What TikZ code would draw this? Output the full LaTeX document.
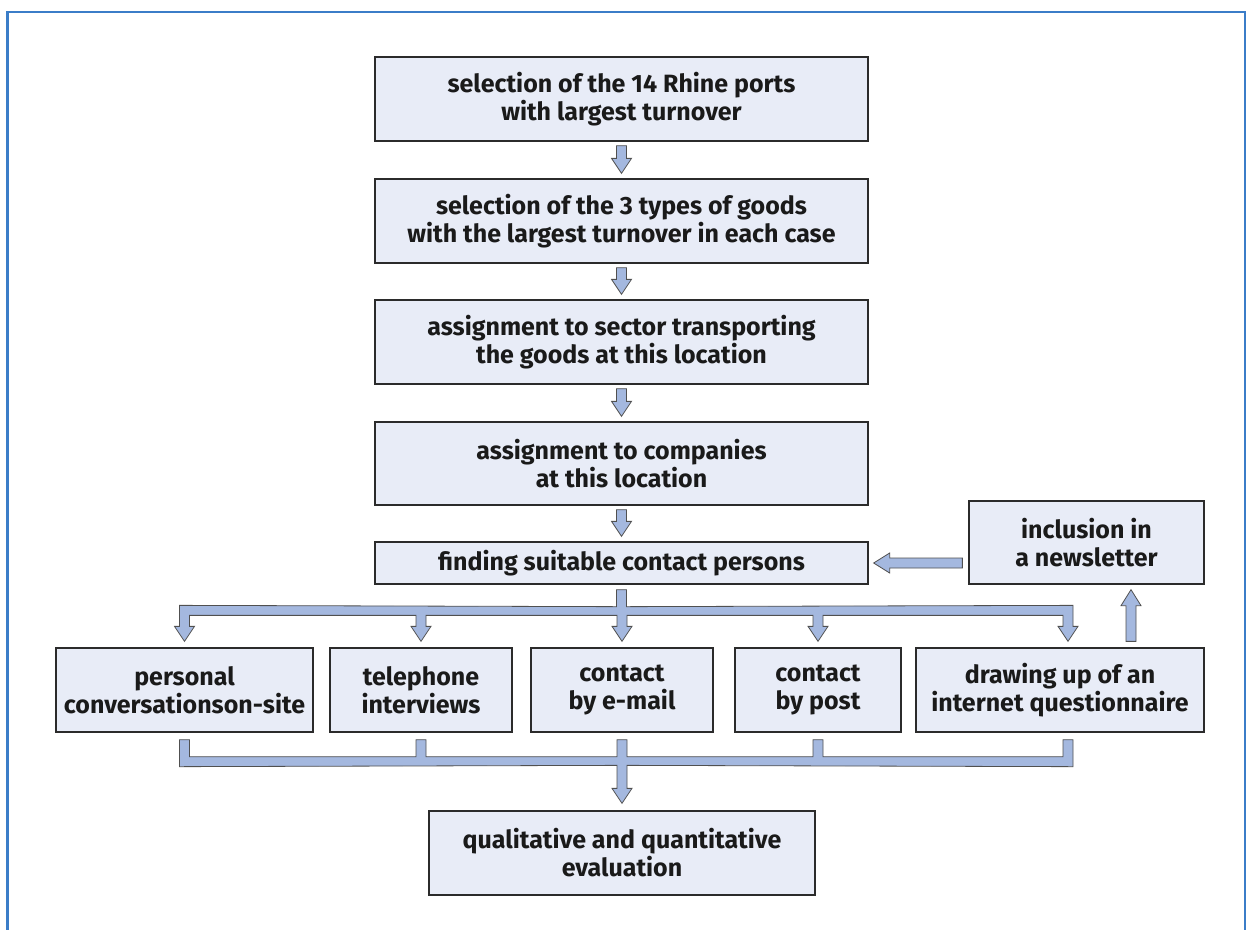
\documentclass[tikz,border=0pt]{standalone}
\usepackage{fontspec}
\setmainfont{Fira Sans}
\usetikzlibrary{calc}
\definecolor{framec}{HTML}{3B7DC8}
\definecolor{boxfill}{HTML}{E8ECF7}
\definecolor{boxline}{HTML}{2B2B2B}
\definecolor{arrfill}{HTML}{A4B8DF}
\definecolor{arrline}{HTML}{505050}
\definecolor{txt}{HTML}{1A1A1A}
\tikzset{
  box/.style={draw=boxline, line width=1.3pt, fill=boxfill, align=center, text=txt,
    font=\fontsize{25}{28}\selectfont\bfseries, inner sep=0pt, minimum height=84pt},
  barrow/.style={draw=arrline, line width=0.8pt, fill=arrfill, line join=miter},
  framestyle/.style={draw=framec, line width=2.5pt}
}
\newcommand\vdarrow[2]{%
  \draw[barrow] ($(#1.south)+(-5,4)$) -- ($(#1.south)+(5,4)$) -- ($(#2.north)+(5,-20)$)
    -- ($(#2.north)+(10,-20)$) -- ($(#2.north)+(0,-5)$) -- ($(#2.north)+(-10,-20)$)
    -- ($(#2.north)+(-5,-20)$) -- cycle;}
\begin{document}
\begin{tikzpicture}[x=1pt,y=-1pt]
\useasboundingbox (0,0) rectangle (1246,929);
\draw[framestyle] (7.7,935) -- (7.7,12) -- (1245,12) -- (1245,935);

\node[box, minimum width=493pt] (b1) at (621.5,99) {selection of the 14 Rhine ports\\with largest turnover};
\node[box, minimum width=493pt] (b2) at (621.5,221) {selection of the 3 types of goods\\with the largest turnover in each case};
\node[box, minimum width=493pt] (b3) at (621.5,342) {assignment to sector transporting\\the goods at this location};
\node[box, minimum width=493pt, minimum height=83pt] (b4) at (621.5,463.5) {assignment to companies\\at this location};
\node[box, minimum width=493pt, minimum height=42pt] (b5) at (621.5,563) {finding suitable contact persons};
\node[box, minimum width=235pt, minimum height=83pt] (inc) at (1086.5,542.5) {inclusion in\\a newsletter};

\node[box, minimum width=257pt] (p1) at (184.5,690) {personal\\conversationson-site};
\node[box, minimum width=182pt] (p2) at (421,690) {telephone\\interviews};
\node[box, minimum width=182pt] (p3) at (622,690) {contact\\by e-mail};
\node[box, minimum width=166pt] (p4) at (818,690) {contact\\by post};
\node[box, minimum width=288pt] (p5) at (1060,690) {drawing up of an\\internet questionnaire};

\node[box, minimum width=386pt] (q) at (622,853) {qualitative and quantitative\\evaluation};

\vdarrow{b1}{b2}
\vdarrow{b2}{b3}
\vdarrow{b3}{b4}
\vdarrow{b4}{b5}

% branching from b5 to the row
\draw[barrow] ($(b5.south)+(-5,5)$) -- ($(b5.south)+(5,5)$) -- ($(b5.south)+(5,22)$)
  -- ($(p5.north)+(13,-42)$) -- ($(p5.north)+(13,-21)$) -- ($(p5.north)+(18,-21)$)
  -- ($(p5.north)+(8,-6)$) -- ($(p5.north)+(-2,-21)$) -- ($(p5.north)+(3,-21)$) -- ($(p5.north)+(3,-32)$)
  \foreach \n in {p4,p3,p2} {
    -- ($(\n.north)+(5,-32)$) -- ($(\n.north)+(5,-21)$) -- ($(\n.north)+(10,-21)$)
    -- ($(\n.north)+(0,-6)$) -- ($(\n.north)+(-10,-21)$) -- ($(\n.north)+(-5,-21)$) -- ($(\n.north)+(-5,-32)$) }
  -- ($(p1.north)+(5,-32)$) -- ($(p1.north)+(5,-21)$) -- ($(p1.north)+(10,-21)$)
  -- ($(p1.north)+(0,-6)$) -- ($(p1.north)+(-10,-21)$) -- ($(p1.north)+(-5,-21)$) -- ($(p1.north)+(-5,-42)$)
  -- ($(b5.south)+(-5,22)$) -- cycle;

% collector from the row to q
\draw[barrow] ($(p1.south)+(-5,7)$) -- ($(p1.south)+(5,7)$) -- ($(p1.south)+(5,24)$)
  \foreach \n in {p2,p3,p4} {
    -- ($(\n.south)+(-5,24)$) -- ($(\n.south)+(-5,7)$) -- ($(\n.south)+(5,7)$) -- ($(\n.south)+(5,24)$) }
  -- ($(p5.south)+(3,24)$) -- ($(p5.south)+(3,7)$) -- ($(p5.south)+(13,7)$) -- ($(p5.south)+(13,34)$)
  -- ($(q.north)+(5,-45)$) -- ($(q.north)+(5,-22)$) -- ($(q.north)+(10,-22)$) -- ($(q.north)+(0,-7)$)
  -- ($(q.north)+(-10,-22)$) -- ($(q.north)+(-5,-22)$) -- ($(q.north)+(-5,-45)$)
  -- ($(p1.south)+(-5,34)$) -- cycle;

% newsletter back to b5
\draw[barrow] ($(b5.east)+(5,0)$) -- ($(b5.east)+(21,-10)$) -- ($(b5.east)+(21,-5)$)
  -- ($(inc.west|-b5.east)+(-6,-5)$) -- ($(inc.west|-b5.east)+(-6,5)$)
  -- ($(b5.east)+(21,5)$) -- ($(b5.east)+(21,10)$) -- cycle;

% questionnaire up to newsletter
\draw[barrow] ($(p5.north)+(66,-6)$) -- ($(p5.north)+(76,-6)$) -- ($(inc.south)+(49.5,21)$)
  -- ($(inc.south)+(54.5,21)$) -- ($(inc.south)+(44.5,5)$) -- ($(inc.south)+(34.5,21)$)
  -- ($(inc.south)+(39.5,21)$) -- cycle;
\end{tikzpicture}
\end{document}
